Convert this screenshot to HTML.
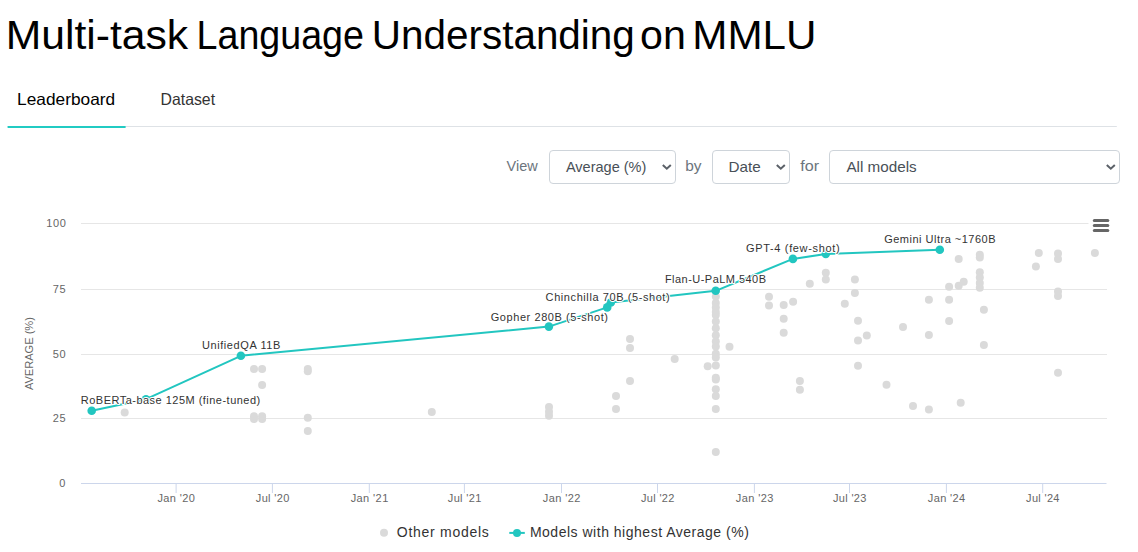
<!DOCTYPE html><html><head><meta charset="utf-8"><title>MMLU</title><style>html,body{margin:0;padding:0;background:#fff;width:1138px;height:552px;overflow:hidden}svg{display:block;font-family:"Liberation Sans",sans-serif}</style></head><body>
<svg width="1138" height="552" viewBox="0 0 1138 552">
<text x="5.68" y="48.6" font-size="40" fill="#000" textLength="182.46" lengthAdjust="spacingAndGlyphs">Multi-task</text>
<text x="196.60" y="48.6" font-size="40" fill="#000" textLength="167.37" lengthAdjust="spacingAndGlyphs">Language</text>
<text x="371.87" y="48.6" font-size="40" fill="#000" textLength="262.94" lengthAdjust="spacingAndGlyphs">Understanding</text>
<text x="640.05" y="48.6" font-size="40" fill="#000" textLength="45.82" lengthAdjust="spacingAndGlyphs">on</text>
<text x="692.32" y="48.6" font-size="40" fill="#000" textLength="124.12" lengthAdjust="spacingAndGlyphs">MMLU</text>
<text x="17.14" y="104.7" font-size="16.5" fill="#000" textLength="97.99" lengthAdjust="spacingAndGlyphs">Leaderboard</text>
<text x="160.55" y="104.9" font-size="16.5" fill="#333" textLength="54.51" lengthAdjust="spacingAndGlyphs">Dataset</text>
<rect x="7.6" y="126" width="1109.2" height="1" fill="#dee2e6"/>
<rect x="7.6" y="126" width="118" height="2" fill="#21cbc3"/>
<text x="506.60" y="171" font-size="15" fill="#6c757d" textLength="31.14" lengthAdjust="spacingAndGlyphs">View</text>
<text x="685.17" y="171" font-size="15" fill="#6c757d" textLength="16.27" lengthAdjust="spacingAndGlyphs">by</text>
<text x="800.18" y="171" font-size="15" fill="#6c757d" textLength="18.84" lengthAdjust="spacingAndGlyphs">for</text>
<rect x="549.5" y="150.5" width="126" height="33" rx="3.5" ry="3.5" fill="#fff" stroke="#ced4da" stroke-width="1"/>
<text x="565.90" y="172.2" font-size="15" fill="#495057" textLength="80.47" lengthAdjust="spacingAndGlyphs">Average (%)</text>
<path d="M662.80 165.0 L666.80 168.7 L670.80 165.0" fill="none" stroke="#5b6168" stroke-width="2" stroke-linecap="butt" stroke-linejoin="miter"/>
<rect x="712.5" y="150.5" width="77" height="33" rx="3.5" ry="3.5" fill="#fff" stroke="#ced4da" stroke-width="1"/>
<text x="728.48" y="172.2" font-size="15" fill="#495057" textLength="32.22" lengthAdjust="spacingAndGlyphs">Date</text>
<path d="M776.80 165.0 L780.80 168.7 L784.80 165.0" fill="none" stroke="#5b6168" stroke-width="2" stroke-linecap="butt" stroke-linejoin="miter"/>
<rect x="829.5" y="150.5" width="290" height="33" rx="3.5" ry="3.5" fill="#fff" stroke="#ced4da" stroke-width="1"/>
<text x="846.40" y="172.2" font-size="15" fill="#495057" textLength="70.30" lengthAdjust="spacingAndGlyphs">All models</text>
<path d="M1106.80 165.0 L1110.80 168.7 L1114.80 165.0" fill="none" stroke="#5b6168" stroke-width="2" stroke-linecap="butt" stroke-linejoin="miter"/>
<rect x="81" y="418" width="1026" height="1" fill="#e6e6e6"/>
<rect x="81" y="354" width="1026" height="1" fill="#e6e6e6"/>
<rect x="81" y="289" width="1026" height="1" fill="#e6e6e6"/>
<rect x="81" y="223" width="1007.5" height="1" fill="#e6e6e6"/>
<text x="59.28" y="487.4" font-size="11" fill="#666" textLength="6.44" lengthAdjust="spacing">0</text>
<text x="52.82" y="422.4" font-size="11" fill="#666" textLength="12.91" lengthAdjust="spacing">25</text>
<text x="52.82" y="358.4" font-size="11" fill="#666" textLength="12.92" lengthAdjust="spacing">50</text>
<text x="52.83" y="293.4" font-size="11" fill="#666" textLength="12.91" lengthAdjust="spacing">75</text>
<text x="46.37" y="227.4" font-size="11" fill="#666" textLength="19.38" lengthAdjust="spacing">100</text>
<text transform="translate(33.3,353.6) rotate(-90)" x="0" y="0" font-size="11.5" fill="#666" text-anchor="middle" textLength="73" lengthAdjust="spacingAndGlyphs">AVERAGE (%)</text>
<rect x="81" y="483" width="1025.5" height="1" fill="#ccd6eb"/>
<rect x="175.6" y="483" width="1" height="10" fill="#ccd6eb"/>
<text x="157.45" y="501.9" font-size="11" fill="#666" textLength="37.52" lengthAdjust="spacing">Jan '20</text>
<rect x="271.9" y="483" width="1" height="10" fill="#ccd6eb"/>
<text x="255.80" y="501.9" font-size="11" fill="#666" textLength="33.45" lengthAdjust="spacing">Jul '20</text>
<rect x="368.8" y="483" width="1" height="10" fill="#ccd6eb"/>
<text x="350.65" y="501.9" font-size="11" fill="#666" textLength="37.62" lengthAdjust="spacing">Jan '21</text>
<rect x="463.9" y="483" width="1" height="10" fill="#ccd6eb"/>
<text x="447.80" y="501.9" font-size="11" fill="#666" textLength="33.55" lengthAdjust="spacing">Jul '21</text>
<rect x="561.0" y="483" width="1" height="10" fill="#ccd6eb"/>
<text x="542.85" y="501.9" font-size="11" fill="#666" textLength="37.63" lengthAdjust="spacing">Jan '22</text>
<rect x="657.0" y="483" width="1" height="10" fill="#ccd6eb"/>
<text x="640.90" y="501.9" font-size="11" fill="#666" textLength="33.55" lengthAdjust="spacing">Jul '22</text>
<rect x="753.9" y="483" width="1" height="10" fill="#ccd6eb"/>
<text x="735.75" y="501.9" font-size="11" fill="#666" textLength="37.63" lengthAdjust="spacing">Jan '23</text>
<rect x="849.0" y="483" width="1" height="10" fill="#ccd6eb"/>
<text x="832.90" y="501.9" font-size="11" fill="#666" textLength="33.55" lengthAdjust="spacing">Jul '23</text>
<rect x="945.9" y="483" width="1" height="10" fill="#ccd6eb"/>
<text x="927.75" y="501.9" font-size="11" fill="#666" textLength="37.43" lengthAdjust="spacing">Jan '24</text>
<rect x="1042.2" y="483" width="1" height="10" fill="#ccd6eb"/>
<text x="1026.10" y="501.9" font-size="11" fill="#666" textLength="33.35" lengthAdjust="spacing">Jul '24</text>
<circle cx="124.7" cy="412.6" r="4" fill="#dadada"/>
<circle cx="254" cy="368.9" r="4" fill="#dadada"/>
<circle cx="262.1" cy="368.9" r="4" fill="#dadada"/>
<circle cx="262.1" cy="384.9" r="4" fill="#dadada"/>
<circle cx="254" cy="416.2" r="4" fill="#dadada"/>
<circle cx="254" cy="419.1" r="4" fill="#dadada"/>
<circle cx="262.1" cy="416.2" r="4" fill="#dadada"/>
<circle cx="262.1" cy="419.1" r="4" fill="#dadada"/>
<circle cx="307.8" cy="368.9" r="4" fill="#dadada"/>
<circle cx="307.8" cy="371.3" r="4" fill="#dadada"/>
<circle cx="307.8" cy="417.8" r="4" fill="#dadada"/>
<circle cx="307.8" cy="430.9" r="4" fill="#dadada"/>
<circle cx="431.8" cy="411.9" r="4" fill="#dadada"/>
<circle cx="549" cy="406.9" r="4" fill="#dadada"/>
<circle cx="549" cy="411.8" r="4" fill="#dadada"/>
<circle cx="549" cy="415.8" r="4" fill="#dadada"/>
<circle cx="630" cy="338.9" r="4" fill="#dadada"/>
<circle cx="630" cy="348" r="4" fill="#dadada"/>
<circle cx="674.7" cy="359" r="4" fill="#dadada"/>
<circle cx="630" cy="381" r="4" fill="#dadada"/>
<circle cx="616" cy="396" r="4" fill="#dadada"/>
<circle cx="616" cy="409" r="4" fill="#dadada"/>
<circle cx="715.8" cy="296.5" r="4" fill="#dadada"/>
<circle cx="715.8" cy="303" r="4" fill="#dadada"/>
<circle cx="715.8" cy="307.5" r="4" fill="#dadada"/>
<circle cx="715.8" cy="312" r="4" fill="#dadada"/>
<circle cx="715.8" cy="315" r="4" fill="#dadada"/>
<circle cx="715.8" cy="321.5" r="4" fill="#dadada"/>
<circle cx="715.8" cy="328.3" r="4" fill="#dadada"/>
<circle cx="715.8" cy="335.3" r="4" fill="#dadada"/>
<circle cx="715.8" cy="341.4" r="4" fill="#dadada"/>
<circle cx="715.8" cy="346.6" r="4" fill="#dadada"/>
<circle cx="715.8" cy="353.8" r="4" fill="#dadada"/>
<circle cx="715.8" cy="357.4" r="4" fill="#dadada"/>
<circle cx="715.8" cy="365.6" r="4" fill="#dadada"/>
<circle cx="715.8" cy="377.8" r="4" fill="#dadada"/>
<circle cx="715.8" cy="379.5" r="4" fill="#dadada"/>
<circle cx="715.8" cy="389.3" r="4" fill="#dadada"/>
<circle cx="715.8" cy="395.9" r="4" fill="#dadada"/>
<circle cx="715.8" cy="408.9" r="4" fill="#dadada"/>
<circle cx="715.8" cy="452" r="4" fill="#dadada"/>
<circle cx="707.7" cy="366.3" r="4" fill="#dadada"/>
<circle cx="729.5" cy="346.8" r="4" fill="#dadada"/>
<circle cx="769" cy="296.7" r="4" fill="#dadada"/>
<circle cx="769" cy="305.6" r="4" fill="#dadada"/>
<circle cx="783.7" cy="304.9" r="4" fill="#dadada"/>
<circle cx="783.7" cy="318.8" r="4" fill="#dadada"/>
<circle cx="783.7" cy="332.7" r="4" fill="#dadada"/>
<circle cx="793.1" cy="301.8" r="4" fill="#dadada"/>
<circle cx="809.8" cy="283.8" r="4" fill="#dadada"/>
<circle cx="825.8" cy="272.7" r="4" fill="#dadada"/>
<circle cx="825.8" cy="279.5" r="4" fill="#dadada"/>
<circle cx="799.9" cy="380.9" r="4" fill="#dadada"/>
<circle cx="799.9" cy="389.8" r="4" fill="#dadada"/>
<circle cx="844.8" cy="303.8" r="4" fill="#dadada"/>
<circle cx="854.9" cy="279.5" r="4" fill="#dadada"/>
<circle cx="854.9" cy="292.9" r="4" fill="#dadada"/>
<circle cx="858" cy="320.8" r="4" fill="#dadada"/>
<circle cx="858" cy="340.6" r="4" fill="#dadada"/>
<circle cx="858" cy="365.7" r="4" fill="#dadada"/>
<circle cx="866.8" cy="335.5" r="4" fill="#dadada"/>
<circle cx="903" cy="327" r="4" fill="#dadada"/>
<circle cx="886.5" cy="384.8" r="4" fill="#dadada"/>
<circle cx="913" cy="406" r="4" fill="#dadada"/>
<circle cx="928.9" cy="299.8" r="4" fill="#dadada"/>
<circle cx="928.9" cy="335" r="4" fill="#dadada"/>
<circle cx="928.9" cy="409.5" r="4" fill="#dadada"/>
<circle cx="949.1" cy="286.7" r="4" fill="#dadada"/>
<circle cx="949.1" cy="299.8" r="4" fill="#dadada"/>
<circle cx="949.1" cy="320.9" r="4" fill="#dadada"/>
<circle cx="958.7" cy="258.9" r="4" fill="#dadada"/>
<circle cx="958.7" cy="285.7" r="4" fill="#dadada"/>
<circle cx="963.7" cy="281.7" r="4" fill="#dadada"/>
<circle cx="960.7" cy="402.8" r="4" fill="#dadada"/>
<circle cx="979.8" cy="254.8" r="4" fill="#dadada"/>
<circle cx="979.8" cy="257.4" r="4" fill="#dadada"/>
<circle cx="979.8" cy="272.2" r="4" fill="#dadada"/>
<circle cx="979.8" cy="277.4" r="4" fill="#dadada"/>
<circle cx="979.8" cy="283" r="4" fill="#dadada"/>
<circle cx="979.8" cy="287.8" r="4" fill="#dadada"/>
<circle cx="983.9" cy="309.8" r="4" fill="#dadada"/>
<circle cx="983.9" cy="345" r="4" fill="#dadada"/>
<circle cx="1038.8" cy="252.9" r="4" fill="#dadada"/>
<circle cx="1035.9" cy="266.6" r="4" fill="#dadada"/>
<circle cx="1058" cy="253.6" r="4" fill="#dadada"/>
<circle cx="1058" cy="259" r="4" fill="#dadada"/>
<circle cx="1094.9" cy="252.9" r="4" fill="#dadada"/>
<circle cx="1058" cy="291.6" r="4" fill="#dadada"/>
<circle cx="1058" cy="296" r="4" fill="#dadada"/>
<circle cx="1058" cy="372.8" r="4" fill="#dadada"/>
<polyline points="91.7,410.8 146.0,399.2 240.9,355.8 548.9,326.6 607.2,307.4 610.8,302.5 715.7,290.8 792.9,258.9 825.8,253.9 939.8,249.7" fill="none" stroke="#22c6c0" stroke-width="2" stroke-linejoin="round" stroke-linecap="round"/>
<circle cx="91.7" cy="410.8" r="4.3" fill="#22c6c0"/>
<circle cx="146.0" cy="399.2" r="4.3" fill="#22c6c0"/>
<circle cx="240.9" cy="355.8" r="4.3" fill="#22c6c0"/>
<circle cx="548.9" cy="326.6" r="4.3" fill="#22c6c0"/>
<circle cx="607.2" cy="307.4" r="4.3" fill="#22c6c0"/>
<circle cx="610.8" cy="302.5" r="4.3" fill="#22c6c0"/>
<circle cx="715.7" cy="290.8" r="4.3" fill="#22c6c0"/>
<circle cx="792.9" cy="258.9" r="4.3" fill="#22c6c0"/>
<circle cx="825.8" cy="253.9" r="4.3" fill="#22c6c0"/>
<circle cx="939.8" cy="249.7" r="4.3" fill="#22c6c0"/>
<text x="80.80" y="403.8" font-size="11" fill="#333" stroke="#fff" stroke-width="2" stroke-linejoin="round" paint-order="stroke" textLength="179.39" lengthAdjust="spacing">RoBERTa-base 125M (fine-tuned)</text>
<text x="201.90" y="348.8" font-size="11" fill="#333" stroke="#fff" stroke-width="2" stroke-linejoin="round" paint-order="stroke" textLength="78.44" lengthAdjust="spacing">UnifiedQA 11B</text>
<text x="490.70" y="320.8" font-size="11" fill="#333" stroke="#fff" stroke-width="2" stroke-linejoin="round" paint-order="stroke" textLength="117.28" lengthAdjust="spacing">Gopher 280B (5-shot)</text>
<text x="545.60" y="301.1" font-size="11" fill="#333" stroke="#fff" stroke-width="2" stroke-linejoin="round" paint-order="stroke" textLength="124.07" lengthAdjust="spacing">Chinchilla 70B (5-shot)</text>
<text x="664.90" y="283.4" font-size="11" fill="#333" stroke="#fff" stroke-width="2" stroke-linejoin="round" paint-order="stroke" textLength="101.15" lengthAdjust="spacing">Flan-U-PaLM 540B</text>
<text x="746.00" y="251.7" font-size="11" fill="#333" stroke="#fff" stroke-width="2" stroke-linejoin="round" paint-order="stroke" textLength="93.64" lengthAdjust="spacing">GPT-4 (few-shot)</text>
<text x="884.20" y="242.6" font-size="11" fill="#333" stroke="#fff" stroke-width="2" stroke-linejoin="round" paint-order="stroke" textLength="111.31" lengthAdjust="spacing">Gemini Ultra ~1760B</text>
<line x1="1094.3" y1="220.4" x2="1107.8" y2="220.4" stroke="#666" stroke-width="3" stroke-linecap="round"/>
<line x1="1094.3" y1="225.5" x2="1107.8" y2="225.5" stroke="#666" stroke-width="3" stroke-linecap="round"/>
<line x1="1094.3" y1="230.5" x2="1107.8" y2="230.5" stroke="#666" stroke-width="3" stroke-linecap="round"/>
<circle cx="384" cy="532.8" r="4" fill="#dadada"/>
<text x="396.80" y="536.9" font-size="14" fill="#333" textLength="91.93" lengthAdjust="spacing">Other models</text>
<rect x="509.3" y="531.9" width="15.5" height="2" fill="#22c6c0"/>
<circle cx="517" cy="532.9" r="4" fill="#22c6c0"/>
<text x="529.90" y="536.9" font-size="14" fill="#333" textLength="218.92" lengthAdjust="spacing">Models with highest Average (%)</text>
</svg></body></html>
